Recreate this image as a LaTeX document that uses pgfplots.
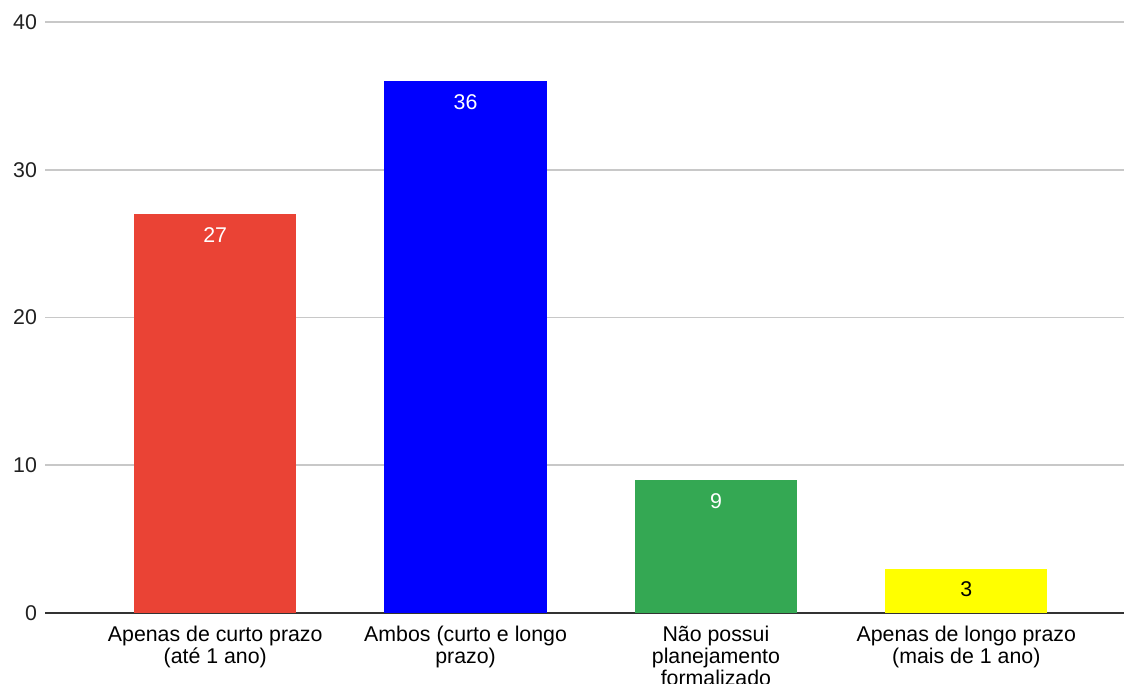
\documentclass[border=0pt]{standalone}
\usepackage{fontspec}
\setmainfont{Liberation Sans}
\usepackage{pgfplots}
\pgfplotsset{compat=1.18}

\definecolor{barred}{HTML}{EA4335}
\definecolor{barblue}{HTML}{0000FF}
\definecolor{bargreen}{HTML}{34A853}
\definecolor{baryellow}{HTML}{FFFF00}
\definecolor{gridgray}{HTML}{C8C8C8}
\definecolor{axisdark}{HTML}{333333}

\newcommand{\chartfont}{\fontsize{16}{16.5}\selectfont}

\begin{document}
\begin{tikzpicture}
\useasboundingbox (0,0) rectangle (843pt,513pt);
\begin{axis}[
  at={(33.75pt,53.25pt)}, anchor=south west,
  scale only axis,
  width=809.25pt, height=443.25pt,
  xmin=-0.68, xmax=3.63,
  ymin=0, ymax=40,
  ytick={0,10,20,30,40},
  xtick={0,1,2,3},
  xticklabels={
    {Apenas de curto prazo\\(até 1 ano)},
    {Ambos (curto e longo\\prazo)},
    {Não possui\\planejamento\\formalizado},
    {Apenas de longo prazo\\(mais de 1 ano)}},
  xticklabel style={align=center, font=\chartfont, text=black, yshift=-6.5pt},
  yticklabel style={font=\chartfont, text=black!87, xshift=-2.5pt},
  /pgf/number format/assume math mode=true,
  major tick length=0pt,
  ymajorgrids,
  grid style={draw=gridgray, line width=1.2pt},
  axis lines*=left,
  y axis line style={draw=none},
  x axis line style={draw=axisdark, line width=1.2pt, -},
  ybar, bar shift=0pt, bar width=0.648,
  nodes near coords,
  every node near coord/.append style={anchor=north, yshift=-6.5pt, font=\chartfont},
  clip=false,
]
\addplot[fill=barred, draw=none, nodes near coords style={text=white}] coordinates {(0,27)};
\addplot[fill=barblue, draw=none, nodes near coords style={text=white}] coordinates {(1,36)};
\addplot[fill=bargreen, draw=none, nodes near coords style={text=white}] coordinates {(2,9)};
\addplot[fill=baryellow, draw=none, nodes near coords style={text=black}] coordinates {(3,3)};
\end{axis}
\end{tikzpicture}
\end{document}
